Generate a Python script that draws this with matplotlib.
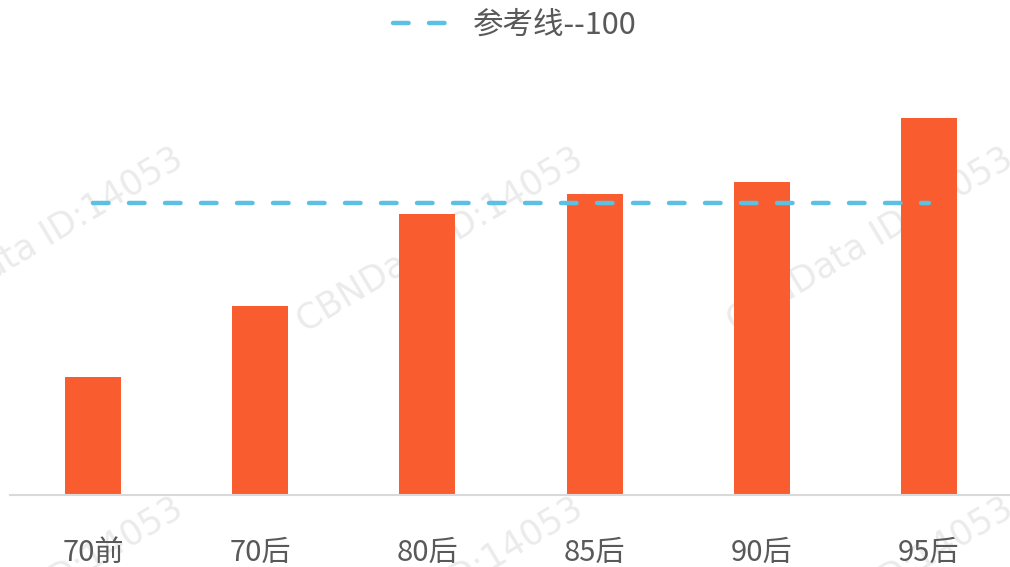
import matplotlib
matplotlib.use('Agg')
import matplotlib.pyplot as plt
from matplotlib.lines import Line2D

plt.rcParams['font.family'] = ['Noto Sans CJK SC', 'DejaVu Sans']

COLORS = {
    'bar': '#F95D2F',
    'ref': '#5BC0E3',
    'text': '#595959',
    'axis': '#D9D9D9',
    'mark': '#EBEBEB',
}

categories = ['70前', '70后', '80后', '85后', '90后', '95后']
values = [40.5, 64.7, 96.2, 103.1, 107.2, 129.1]
ref_value = 100
ref_label = '参考线--100'
watermark = 'CBNData ID:14053'

W, H = 1010, 567
fig = plt.figure(figsize=(W / 100, H / 100), dpi=100)
fig.patch.set_facecolor('white')
# axes: left ~9.5px, right ~1012px, baseline at y=495, top ~57
ax = fig.add_axes([9.5 / W, 1 - 495 / H, 1003 / W, (495 - 57) / H])
ax.patch.set_alpha(0)

DASH = (3.5, 4.6)
x = list(range(len(categories)))
ax.bar(x, values, width=0.335, color=COLORS['bar'], zorder=2)
ax.plot(x, [ref_value] * len(x), color=COLORS['ref'], lw=3.2,
        dashes=DASH, dash_capstyle='round', zorder=3)

ax.set_xlim(-0.5, len(categories) - 0.5)
ax.set_ylim(0, 150)
ax.set_xticks(x)
ax.set_xticklabels(categories, fontsize=21, color=COLORS['text'])
ax.tick_params(axis='x', length=0, pad=31)
ax.set_yticks([])
for side in ['top', 'right', 'left']:
    ax.spines[side].set_visible(False)
ax.spines['bottom'].set_color(COLORS['axis'])
ax.spines['bottom'].set_linewidth(1.5)

handle = Line2D([0], [0], color=COLORS['ref'], lw=3.2, dashes=DASH,
                dash_capstyle='round')
fig.legend([handle], [ref_label], loc='center', bbox_to_anchor=(515 / W, 1 - 25 / H),
           frameon=False, fontsize=22, labelcolor=COLORS['text'],
           handlelength=1.8, handletextpad=0.8)

# faint watermarks behind the chart
for wx, wy in [(40, 240), (440, 240), (870, 240), (40, 590), (440, 590), (870, 590)]:
    fig.text(wx / W, 1 - wy / H, watermark, fontsize=25, color=COLORS['mark'],
             rotation=31, ha='center', va='center', zorder=-1,
             family='DejaVu Sans')

fig.savefig('out.png', dpi=100)
